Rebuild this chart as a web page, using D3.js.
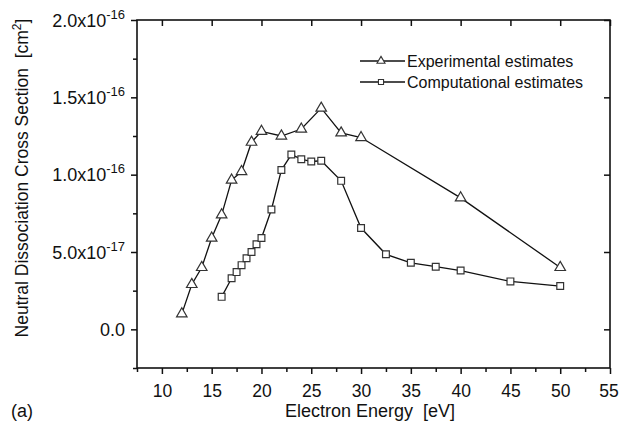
<!DOCTYPE html>
<html>
<head>
<meta charset="utf-8">
<script src="https://cdn.jsdelivr.net/npm/d3@7"></script>
<style>
  body { margin: 0; background: #fff; }
  svg text { font-family: "Liberation Sans", Arial, sans-serif; fill: #111; white-space: pre; }
</style>
</head>
<body>
<svg></svg>
<script>
// data (cross section in cm^2, energy in eV)
const expEnergy = [12, 13, 14, 15, 16, 17, 18, 19, 20, 22, 24, 26, 28, 30, 40, 50]
const expSigma  = [0.10e-16, 0.29e-16, 0.40e-16, 0.59e-16, 0.74e-16, 0.965e-16, 1.02e-16, 1.21e-16,
                   1.28e-16, 1.25e-16, 1.295e-16, 1.43e-16, 1.27e-16, 1.24e-16, 0.85e-16, 0.40e-16]

const compEnergy = [16, 17, 17.5, 18, 18.5, 19, 19.5, 20, 21, 22, 23, 24, 25, 26, 28, 30, 32.5, 35, 37.5, 40, 45, 50]
const compSigma  = [0.21e-16, 0.33e-16, 0.37e-16, 0.415e-16, 0.46e-16, 0.50e-16, 0.55e-16, 0.59e-16,
                    0.775e-16, 1.03e-16, 1.13e-16, 1.10e-16, 1.085e-16, 1.09e-16, 0.96e-16, 0.655e-16,
                    0.485e-16, 0.43e-16, 0.405e-16, 0.38e-16, 0.31e-16, 0.28e-16]

const xMajor = [10, 15, 20, 25, 30, 35, 40, 45, 50, 55]
const xMinor = [7.5, 12.5, 17.5, 22.5, 27.5, 32.5, 37.5, 42.5, 47.5, 52.5]
const yMajor = [0, 0.5e-16, 1.0e-16, 1.5e-16, 2.0e-16]
const yMinor = [-0.25e-16, 0.25e-16, 0.75e-16, 1.25e-16, 1.75e-16]
const yLabels = [["0.0", ""], ["5.0x10", "-17"], ["1.0x10", "-16"], ["1.5x10", "-16"], ["2.0x10", "-16"]]

const width = 619, height = 424
const margin = {left: 137, top: 20, right: 9, bottom: 56}

let svg = d3.select("svg")
    .attr("width", width)
    .attr("height", height)

let x = d3.scaleLinear().domain([7.5, 55]).range([margin.left, width - margin.right])
let y = d3.scaleLinear().domain([-0.25e-16, 2.0e-16]).range([height - margin.bottom, margin.top])

const x0 = margin.left, x1 = width - margin.right
const y0 = height - margin.bottom, y1 = margin.top

// bottom axis (outward ticks + minor)
let bottom = svg.append("g").attr("transform", `translate(0,${y0})`)
    .call(d3.axisBottom(x).tickValues(xMajor).tickSize(6).tickSizeOuter(0).tickFormat(d3.format("d")))
svg.append("g").attr("transform", `translate(0,${y0})`)
    .call(d3.axisBottom(x).tickValues(xMinor).tickSize(4).tickSizeOuter(0).tickFormat(""))

// top axis (inward major ticks)
svg.append("g").attr("transform", `translate(0,${y1})`)
    .call(d3.axisBottom(x).tickValues(xMajor).tickSize(6).tickSizeOuter(0).tickFormat(""))

// left axis
svg.append("g").attr("transform", `translate(${x0},0)`)
    .call(d3.axisLeft(y).tickValues(yMajor).tickSize(6).tickSizeOuter(0).tickFormat(""))
svg.append("g").attr("transform", `translate(${x0},0)`)
    .call(d3.axisLeft(y).tickValues(yMinor).tickSize(4).tickSizeOuter(0).tickFormat(""))

// right axis (inward)
svg.append("g").attr("transform", `translate(${x1},0)`)
    .call(d3.axisLeft(y).tickValues(yMajor).tickSize(6).tickSizeOuter(0).tickFormat(""))

svg.selectAll(".domain").remove()
svg.selectAll(".tick line").attr("stroke", "#111").attr("stroke-width", 1.5)

bottom.selectAll(".tick text")
    .attr("font-size", 17.5)
    .attr("dy", null)
    .attr("y", 29)
    .attr("dx", d => d == 55 ? -1.5 : 0)

// y tick labels with superscript exponents
yMajor.forEach(function(v, i) {
    let t = svg.append("text")
        .attr("x", 125)
        .attr("y", y(v) + 6.5)
        .attr("text-anchor", "end")
        .attr("font-size", 18)
    t.append("tspan").text(yLabels[i][0])
    if (yLabels[i][1] != "") {
        t.append("tspan").attr("font-size", 13).attr("dy", -8).text(yLabels[i][1])
    }
})

// frame
svg.append("rect")
    .attr("x", x0).attr("y", y1)
    .attr("width", x1 - x0).attr("height", y0 - y1)
    .attr("fill", "none")
    .attr("stroke", "#111")
    .attr("stroke-width", 1.6)

let line = d3.line().x(d => x(d[0])).y(d => y(d[1]))

const expPts = expEnergy.map((e, i) => [e, expSigma[i]])
const compPts = compEnergy.map((e, i) => [e, compSigma[i]])

svg.append("path").datum(expPts).attr("d", line)
    .attr("fill", "none").attr("stroke", "#111").attr("stroke-width", 1.3)
svg.append("path").datum(compPts).attr("d", line)
    .attr("fill", "none").attr("stroke", "#111").attr("stroke-width", 1.3)

let tri = d3.symbol().type(d3.symbolTriangle).size(48)
let sq = d3.symbol().type(d3.symbolSquare).size(46)

svg.selectAll(".tri")
    .data(expPts)
    .enter()
    .append("path")
    .attr("class", "tri")
    .attr("d", tri)
    .attr("transform", d => `translate(${x(d[0])},${y(d[1])})`)
    .attr("fill", "white")
    .attr("stroke", "#333")
    .attr("stroke-width", 1.2)

svg.selectAll(".sq")
    .data(compPts)
    .enter()
    .append("path")
    .attr("class", "sq")
    .attr("d", sq)
    .attr("transform", d => `translate(${x(d[0])},${y(d[1])})`)
    .attr("fill", "white")
    .attr("stroke", "#333")
    .attr("stroke-width", 1.2)

// legend
const legend = [["Experimental estimates", d3.symbolTriangle], ["Computational estimates", d3.symbolSquare]]
legend.forEach(function(l, i) {
    let ly = 61 + i * 21
    svg.append("line").attr("x1", 360).attr("x2", 405).attr("y1", ly).attr("y2", ly)
        .attr("stroke", "#111").attr("stroke-width", 1.3)
    svg.append("path")
        .attr("d", d3.symbol().type(l[1]).size(i == 0 ? 28 : 26)())
        .attr("transform", `translate(381,${ly})`)
        .attr("fill", "white").attr("stroke", "#333").attr("stroke-width", 1.1)
    svg.append("text").attr("x", 407).attr("y", ly + 6)
        .attr("font-size", 16)
        .text(l[0])
})

// axis titles
svg.append("text")
    .attr("x", 370).attr("y", 417)
    .attr("text-anchor", "middle")
    .attr("font-size", 18)
    .text("Electron Energy  [eV]")

let yt = svg.append("text")
    .attr("transform", "translate(28,178) rotate(-90)")
    .attr("text-anchor", "middle")
    .attr("font-size", 17.5)
yt.append("tspan").text("Neutral Dissociation Cross Section  [cm")
yt.append("tspan").attr("font-size", 12).attr("dy", -7).text("2")
yt.append("tspan").attr("dy", 7).text("]")

svg.append("text")
    .attr("x", 11).attr("y", 417)
    .attr("font-size", 18)
    .text("(a)")
</script>
</body>
</html>
